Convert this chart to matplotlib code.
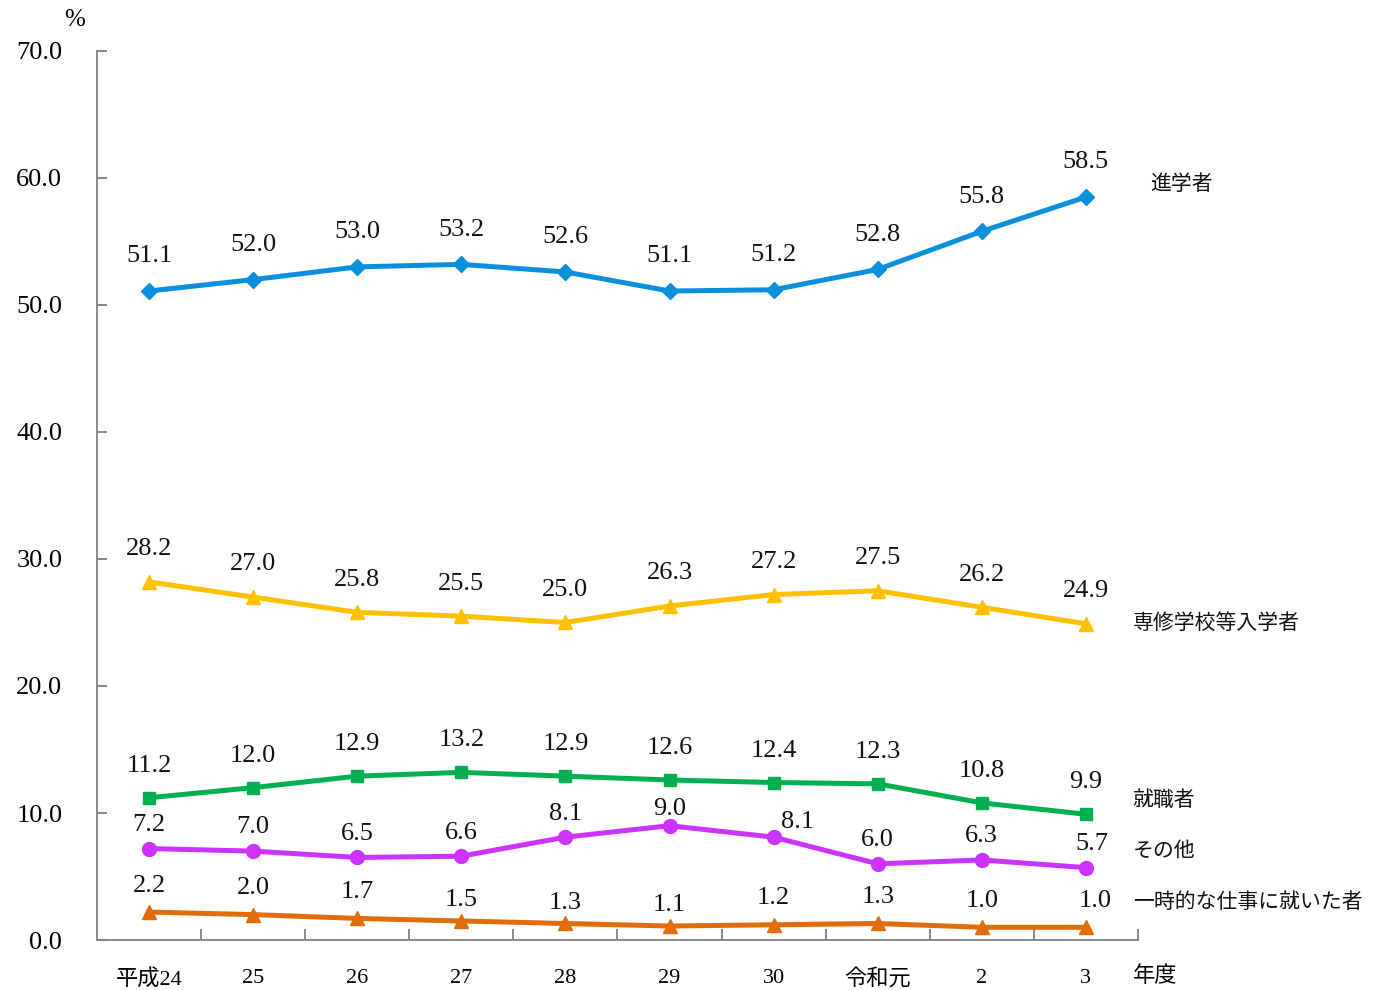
import matplotlib
matplotlib.use("Agg")
import matplotlib.pyplot as plt
import numpy as np

plt.rcParams["font.family"] = ["Liberation Serif", "Noto Sans CJK JP", "DejaVu Sans"]

# --- data -------------------------------------------------------------
years = ["平成24", "25", "26", "27", "28", "29", "30", "令和元", "2", "3"]

shingaku  = [51.1, 52.0, 53.0, 53.2, 52.6, 51.1, 51.2, 52.8, 55.8, 58.5]
senshu    = [28.2, 27.0, 25.8, 25.5, 25.0, 26.3, 27.2, 27.5, 26.2, 24.9]
shushoku  = [11.2, 12.0, 12.9, 13.2, 12.9, 12.6, 12.4, 12.3, 10.8, 9.9]
sonota    = [7.2, 7.0, 6.5, 6.6, 8.1, 9.0, 8.1, 6.0, 6.3, 5.7]
ichiji    = [2.2, 2.0, 1.7, 1.5, 1.3, 1.1, 1.2, 1.3, 1.0, 1.0]

series_names = ["進学者", "専修学校等入学者", "就職者", "その他", "一時的な仕事に就いた者"]

# --- style ------------------------------------------------------------
# values, colour, marker, marker size, label offset above point (pt)
series = [
    (shingaku, "#0a8fdc", "D", 8, 25),
    (senshu,   "#ffc000", "^", 10, 23.5),
    (shushoku, "#00b050", "s", 9, 23),
    (sonota,   "#cc33ff", "o", 10, 17),
    (ichiji,   "#e36c0a", "^", 10, 19),
]
# right-hand name label positions (data units)
name_pos = [(9.62, 59.4), (9.45, 24.9), (9.45, 10.9), (9.45, 6.9), (9.45, 2.9)]
# extra label shifts (pt) where the reference moves a label aside
label_shift = {(3, 6): (17, -6), (3, 5): (0, -5), (3, 9): (4, 0),
               (4, 3): (0, -4), (4, 4): (0, -4), (4, 5): (0, -4), (4, 9): (7, 0)}

fig = plt.figure(figsize=(13.86, 9.9), dpi=100, facecolor="white")
ax = fig.add_axes([0.070, 0.0505, 0.751, 0.898])
x = np.arange(len(years))

for si, (vals, col, mk, ms, off) in enumerate(series):
    ax.plot(x, vals, color=col, linewidth=3.6, marker=mk, markersize=ms,
            markeredgecolor=col, zorder=3, clip_on=False)
    for i, v in enumerate(vals):
        dx, dy = label_shift.get((si, i), (0, 0))
        ax.annotate(f"{v:.1f}", (i, v), xytext=(dx, off + dy), textcoords="offset points",
                    ha="center", va="center", fontsize=19, color="#111111")
    ax.text(name_pos[si][0], name_pos[si][1], series_names[si], fontsize=15,
            ha="left", va="center", color="#111111")

ax.set_xlim(-0.5, len(years) - 0.5)
ax.set_ylim(0, 70)
ax.set_yticks(np.arange(0, 71, 10))
ax.set_yticklabels([f"{t:.1f}" for t in np.arange(0, 71, 10)], fontsize=19)
ax.set_xticks(x)
ax.set_xticklabels(years, fontsize=16)
ax.set_xticks(np.arange(0.5, len(years), 1), minor=True)
ax.tick_params(axis="x", which="major", length=0, pad=21)
ax.tick_params(axis="x", which="minor", length=8, direction="in", color="#808080", width=1.3)
ax.tick_params(axis="y", length=7, direction="in", color="#808080", width=1.3, pad=25)

for side in ["top", "right"]:
    ax.spines[side].set_visible(False)
for side in ["left", "bottom"]:
    ax.spines[side].set_color("#808080")
    ax.spines[side].set_linewidth(1.3)

fig.text(75 / 1386, 1 - 20 / 990, "%", fontsize=18, ha="center", va="center")
fig.text(1133 / 1386, 1 - 977 / 990, "年度", fontsize=16, ha="left", va="center")

fig.savefig("out.png", dpi=100, facecolor="white")
